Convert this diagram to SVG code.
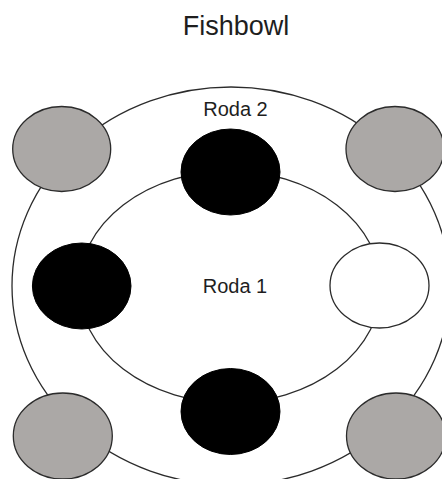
<svg xmlns="http://www.w3.org/2000/svg" width="442" height="479" viewBox="0 0 442 479">
<style>
.ring{fill:none;stroke:#2b2b2b;stroke-width:1.3}
.gray{fill:#aba8a6;stroke:#2b2b2b;stroke-width:1.3}
.black{fill:#000;stroke:#000;stroke-width:1}
.white{fill:#fff;stroke:#2b2b2b;stroke-width:1.3}
text{font-family:"Liberation Sans",Arial,sans-serif;fill:#1e1e1e;text-anchor:middle}
</style>
<rect width="442" height="479" fill="#fff"/>
<text x="236" y="34.5" font-size="27">Fishbowl</text>
<g id="rings">
<ellipse id="roda2" class="ring" cx="231" cy="286" rx="219" ry="199"/>
<ellipse id="roda1" class="ring" cx="230" cy="287" rx="151" ry="116"/>
</g>
<text x="235.5" y="116" font-size="20">Roda 2</text>
<text x="235" y="293" font-size="20">Roda 1</text>
<g id="n-top-left"><ellipse class="gray" cx="61.7" cy="149" rx="49" ry="42.5"/></g>
<g id="n-top-right"><ellipse class="gray" cx="395" cy="149" rx="49" ry="42.5"/></g>
<g id="n-top"><ellipse class="black" cx="230.5" cy="172" rx="49.5" ry="43"/></g>
<g id="n-left"><ellipse class="black" cx="81.7" cy="286" rx="49.3" ry="43"/></g>
<g id="n-right"><ellipse class="white" cx="379.5" cy="285.5" rx="49.5" ry="42.5"/></g>
<g id="n-bottom"><ellipse class="black" cx="230.5" cy="411.5" rx="49.5" ry="43"/></g>
<g id="n-bottom-left"><ellipse class="gray" cx="62.8" cy="436" rx="49.5" ry="43"/></g>
<g id="n-bottom-right"><ellipse class="gray" cx="396" cy="436" rx="49.5" ry="43"/></g>
</svg>
